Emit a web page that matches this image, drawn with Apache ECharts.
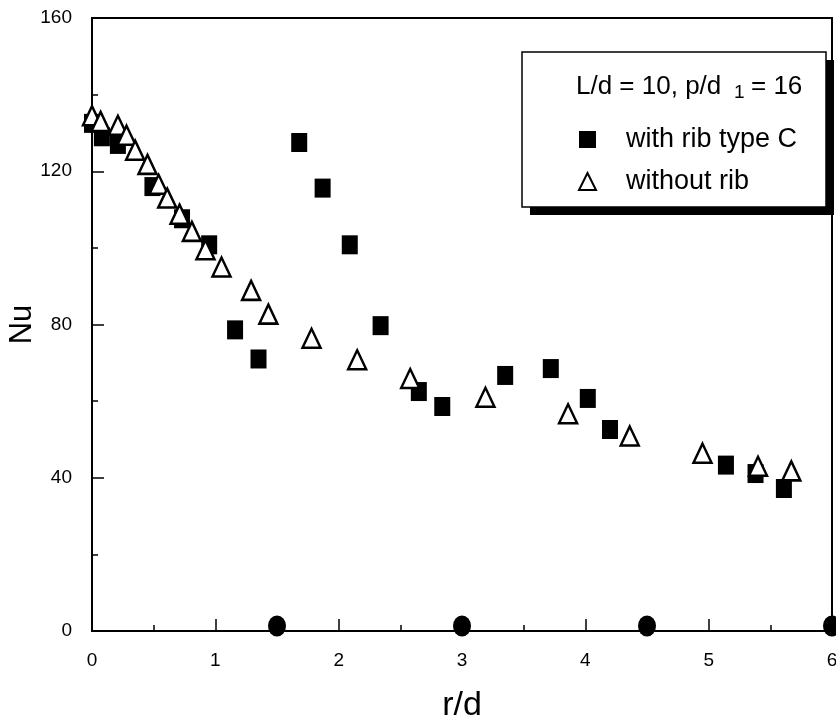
<!DOCTYPE html>
<html>
<head>
<meta charset="utf-8">
<script src="https://cdn.jsdelivr.net/npm/echarts@6/dist/echarts.min.js"></script>
<style>
  html, body { margin: 0; padding: 0; background: #fff; }
  #chart { width: 836px; height: 722px; }
</style>
</head>
<body>
<div id="chart"></div>
<script>
// Local Nusselt number along the radial coordinate r/d
var ribX = [0.0, 0.08, 0.21, 0.49, 0.73, 0.95, 1.16, 1.35, 1.68, 1.87, 2.09, 2.34, 2.65, 2.84, 3.35, 3.72, 4.02, 4.20, 5.14, 5.38, 5.61];
var ribNu = [132.5, 129, 127, 116, 107.6, 100.8, 78.6, 71, 127.5, 115.6, 100.8, 79.7, 62.5, 58.6, 66.7, 68.5, 60.7, 52.6, 43.3, 41.1, 37.2];

var plainX = [0.0, 0.07, 0.21, 0.28, 0.35, 0.45, 0.54, 0.61, 0.71, 0.81, 0.92, 1.05, 1.29, 1.43, 1.78, 2.15, 2.58, 3.19, 3.86, 4.36, 4.95, 5.40, 5.67];
var plainNu = [134.5, 133, 132, 129.4, 125.5, 121.8, 116.6, 113, 108.8, 104.3, 99.5, 95, 88.9, 82.7, 76.4, 70.8, 65.9, 61, 56.7, 50.9, 46.4, 43, 41.8];

// rib locations marked on the axis
var ribPosX = [1.5, 3.0, 4.5, 6.0];
var ribPosY = [1.3, 1.3, 1.3, 1.3];

var xTicks = { min: 0, max: 6, interval: 1 };
var yTicks = { min: 0, max: 160, interval: 40 };

var seriesNames = ['with rib type C', 'without rib'];

function pairs(xs, ys) {
  return xs.map(function (x, i) { return [x, ys[i]]; });
}

var FONT = "'Liberation Sans', Arial, sans-serif";

var chart = echarts.init(document.getElementById('chart'), null, { renderer: 'canvas' });

chart.setOption({
  backgroundColor: '#fff',
  animation: false,
  grid: {
    left: 92, right: 4, top: 18, bottom: 91,
    containLabel: false,
    outerBoundsMode: 'none',
    show: true, borderColor: '#000', borderWidth: 2, backgroundColor: 'transparent'
  },
  xAxis: {
    type: 'value',
    min: xTicks.min, max: xTicks.max, interval: xTicks.interval,
    name: 'r/d', nameLocation: 'middle', nameGap: 58,
    nameMoveOverlap: false,
    nameTextStyle: { fontFamily: FONT, fontSize: 34, color: '#000' },
    axisLine: { lineStyle: { color: '#000', width: 2 } },
    axisTick: { inside: true, length: 12, lineStyle: { color: '#000', width: 1.5 } },
    minorTick: { show: true, splitNumber: 2, length: 6, lineStyle: { color: '#000', width: 1.5 } },
    splitLine: { show: false },
    axisLabel: { fontFamily: FONT, fontSize: 19, color: '#000', margin: 20 }
  },
  yAxis: {
    type: 'value',
    min: yTicks.min, max: yTicks.max, interval: yTicks.interval,
    name: 'Nu', nameLocation: 'middle', nameGap: 54,
    nameMoveOverlap: false,
    nameTextStyle: { fontFamily: FONT, fontSize: 31, color: '#000' },
    axisLine: { lineStyle: { color: '#000', width: 2 } },
    axisTick: { inside: true, length: 12, lineStyle: { color: '#000', width: 1.5 } },
    minorTick: { show: true, splitNumber: 2, length: 6, lineStyle: { color: '#000', width: 1.5 } },
    splitLine: { show: false },
    axisLabel: { fontFamily: FONT, fontSize: 19, color: '#000', margin: 20 }
  },
  legend: {
    data: seriesNames,
    orient: 'vertical',
    left: 578, top: 126,
    itemWidth: 17, itemHeight: 17,
    itemGap: 15,
    padding: 0,
    textStyle: { fontFamily: FONT, fontSize: 27, color: '#000', padding: [0, 0, 0, 25] },
    z: 10
  },
  graphic: [
    // legend frame with a hard drop shadow
    { type: 'rect', z: 5, shape: { x: 530, y: 60, width: 304, height: 155 }, style: { fill: '#000' } },
    { type: 'rect', z: 6, shape: { x: 522, y: 52, width: 304, height: 155 },
      style: { fill: '#fff', stroke: '#000', lineWidth: 1.5 } },
    { type: 'text', z: 7, left: 576, top: 74,
      style: { text: 'L/d = 10, p/d', font: '26px ' + FONT, fill: '#000' } },
    { type: 'text', z: 7, left: 734, top: 83,
      style: { text: '1', font: '19px ' + FONT, fill: '#000' } },
    { type: 'text', z: 7, left: 751, top: 74,
      style: { text: '= 16', font: '26px ' + FONT, fill: '#000' } }
  ],
  series: [
    {
      name: seriesNames[0],
      type: 'scatter',
      data: pairs(ribX, ribNu),
      symbol: 'rect',
      symbolSize: [16, 19],
      itemStyle: { color: '#000', opacity: 1 },
      clip: false,
      z: 2
    },
    {
      name: seriesNames[1],
      type: 'scatter',
      data: pairs(plainX, plainNu),
      symbol: 'triangle',
      symbolSize: [18, 19],
      itemStyle: { color: '#fff', borderColor: '#000', borderWidth: 2.5, opacity: 1 },
      clip: false,
      z: 3
    },
    {
      name: 'rib position',
      type: 'scatter',
      data: pairs(ribPosX, ribPosY),
      symbol: 'circle',
      symbolSize: [18, 21],
      itemStyle: { color: '#000', opacity: 1 },
      clip: false,
      z: 4
    }
  ]
});
</script>
</body>
</html>
